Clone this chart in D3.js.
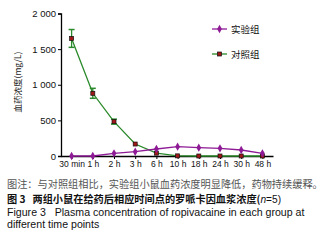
<!DOCTYPE html>
<html>
<head>
<meta charset="utf-8">
<script src="https://cdn.jsdelivr.net/npm/d3@7"></script>
<style>
  body { margin: 0; background: #fff; }
  svg { display: block; }
</style>
</head>
<body>
<div id="chart"></div>
<script>
const timePoints = ["30 min", "1 h", "2 h", "3 h", "6 h", "10 h", "18 h", "24 h", "30 h", "48 h"];
const experimental = [0, 0, 38, 60, 98, 131, 117, 108, 84, 38];
const control = [1650, 880, 482, 168, 40, 2, 0, 0, 0, 0];
const controlErr = [125, 70, 35, 10, 5, 0, 0, 0, 0, 0];
const yTicks = [0, 500, 1000, 1500, 2000];
const seriesNames = ["实验组", "对照组"];

const width = 327, height = 252;
const svg = d3.select("#chart").append("svg")
    .attr("width", width)
    .attr("height", height);

const x = d3.scalePoint().domain(timePoints).range([61, 273]).padding(0.5);
const y = d3.scaleLinear().domain([0, 2000]).range([156, 13.5]);

const purple = "#8e1a96";
const green = "#2b8a2b";

// Axes
const fmt = d => d >= 1000 ? d3.format(",")(d).replace(",", " ") : d;
const yAxis = svg.append("g")
    .attr("transform", "translate(61,0)")
    .call(d3.axisLeft(y).tickValues(yTicks).tickFormat(fmt).tickSize(3).tickPadding(2));
yAxis.select(".domain").attr("stroke", "#000").attr("stroke-width", 1.3);
yAxis.selectAll("text").style("font-family", "Liberation Sans, Arial").style("font-size", "9.5px").attr("fill", "#111");

const xAxis = svg.append("g")
    .attr("transform", "translate(0,156)")
    .call(d3.axisBottom(x).tickSize(3).tickSizeOuter(0).tickPadding(2));
xAxis.select(".domain").attr("stroke", "#000").attr("stroke-width", 1.3);
xAxis.selectAll("text").style("font-family", "Liberation Sans, Arial").style("font-size", "8.5px").attr("fill", "#111");

// Y label
svg.append("text")
    .attr("transform", "translate(21,82) rotate(-90)")
    .attr("text-anchor", "middle")
    .style("font-family", "Noto Sans CJK SC, Liberation Sans")
    .style("font-size", "8.5px")
    .attr("fill", "#222")
    .text("血药浓度(mg/L)");

// Control series
const line = d3.line().x((d, i) => x(timePoints[i])).y(d => y(d));
svg.append("path")
    .datum(control)
    .attr("d", line)
    .attr("fill", "none")
    .attr("stroke", green)
    .attr("stroke-width", 1.3);

const err = svg.append("g");
control.forEach((v, i) => {
    if (controlErr[i] < 20) return;
    const cx = x(timePoints[i]);
    err.append("line").attr("x1", cx).attr("x2", cx)
        .attr("y1", y(v - controlErr[i])).attr("y2", y(v + controlErr[i]))
        .attr("stroke", green).attr("stroke-width", 1.3);
    [v - controlErr[i], v + controlErr[i]].forEach(e => {
        err.append("line").attr("x1", cx - 3).attr("x2", cx + 3)
            .attr("y1", y(e)).attr("y2", y(e))
            .attr("stroke", green).attr("stroke-width", 1.5);
    });
});

// Experimental series
svg.append("path")
    .datum(experimental)
    .attr("d", line)
    .attr("fill", "none")
    .attr("stroke", purple)
    .attr("stroke-width", 1.3);

svg.append("g").selectAll("rect")
    .data(control)
    .join("rect")
    .attr("x", (d, i) => x(timePoints[i]) - 2)
    .attr("y", d => y(d) - 2)
    .attr("width", 4).attr("height", 4)
    .attr("fill", "#a01818")
    .attr("stroke", "#111").attr("stroke-width", 0.7);

const diamond = d3.symbol().type(d3.symbolDiamond).size(20);
svg.append("g").selectAll("path")
    .data(experimental)
    .join("path")
    .attr("transform", (d, i) => `translate(${x(timePoints[i])},${y(d)})`)
    .attr("d", diamond)
    .attr("fill", purple);

// Legend
const legend = svg.append("g");
seriesNames.forEach((name, i) => {
    const ly = 29 + i * 25;
    legend.append("line").attr("x1", 212).attr("x2", 227).attr("y1", ly).attr("y2", ly)
        .attr("stroke", i === 0 ? purple : green).attr("stroke-width", 1.3);
    if (i === 0) {
        legend.append("path").attr("transform", `translate(219.5,${ly})`).attr("d", diamond).attr("fill", purple);
    } else {
        legend.append("rect").attr("x", 217.5).attr("y", ly - 2).attr("width", 4).attr("height", 4)
            .attr("fill", "#a01818").attr("stroke", "#111").attr("stroke-width", 0.7);
    }
    legend.append("text").attr("x", 231).attr("y", ly + 3.5)
        .style("font-family", "Noto Sans CJK SC").style("font-size", "9.5px").attr("fill", "#111")
        .text(name);
});

// Caption
const cap = svg.append("g").style("font-family", "Noto Sans CJK SC, Liberation Sans");
cap.append("text").attr("x", 7).attr("y", 188).style("font-size", "10.2px").attr("fill", "#555")
    .text("图注：与对照组相比，实验组小鼠血药浓度明显降低，药物持续缓释。");
const t2 = cap.append("text").attr("x", 7).attr("y", 203).style("font-size", "10.2px").attr("fill", "#111")
    .style("font-weight", "bold");
t2.append("tspan").text("图 3\u00a0\u00a0\u00a0两组小鼠在给药后相应时间点的罗哌卡因血浆浓度(");
t2.append("tspan").style("font-style", "italic").style("font-weight", "normal").style("font-family", "Liberation Sans").text("n");
t2.append("tspan").style("font-weight", "normal").style("font-family", "Liberation Sans").text("=5)");
cap.append("text").attr("x", 7).attr("y", 216).style("font-family", "Liberation Sans, Arial").style("font-size", "10.6px").attr("fill", "#111")
    .text("Figure 3\u00a0\u00a0\u00a0Plasma concentration of ropivacaine in each group at");
cap.append("text").attr("x", 7).attr("y", 228).style("font-family", "Liberation Sans, Arial").style("font-size", "10.6px").attr("fill", "#111")
    .text("different time points");
</script>
</body>
</html>
